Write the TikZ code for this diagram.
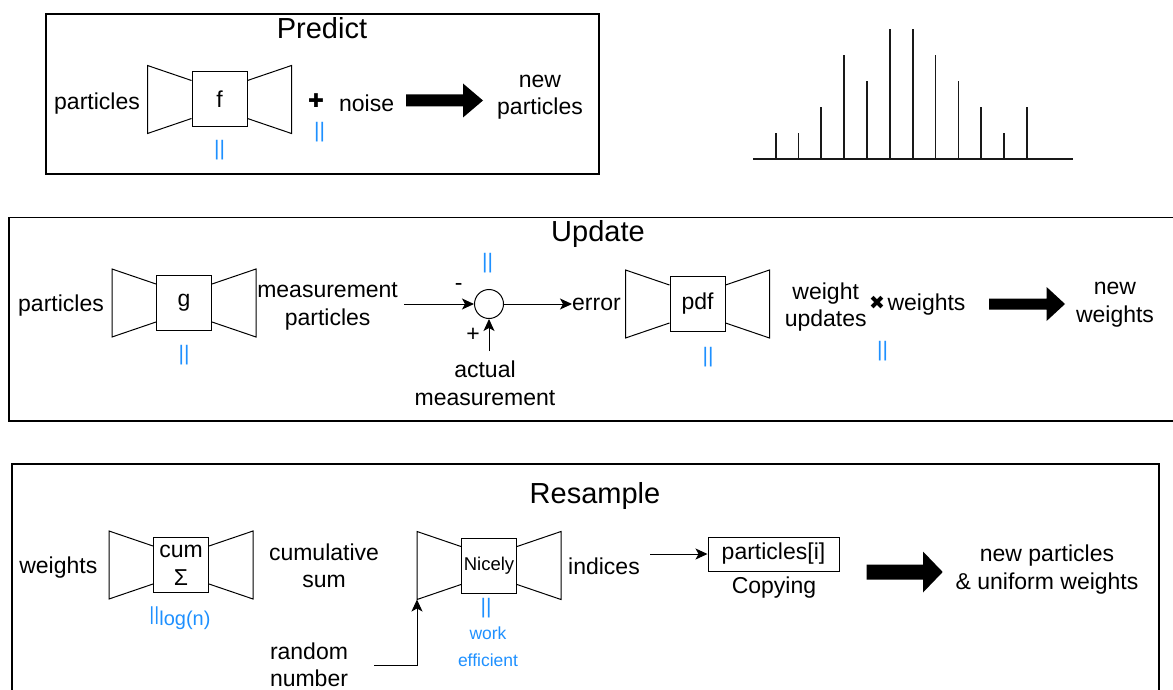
\documentclass[tikz,border=0pt]{standalone}
\usepackage{fontspec}
\setmainfont{Liberation Sans}
\newfontfamily\symfont{DejaVu Sans}
\usetikzlibrary{calc,arrows.meta}
\definecolor{parblue}{RGB}{30,144,255}
\tikzset{
  lbl/.style={inner sep=0pt, align=center, font=\fontsize{23}{27.5}\selectfont, yshift=-3pt},
  ttl/.style={inner sep=0pt, font=\fontsize{29}{33}\selectfont, yshift=-2pt},
  fbox/.style={draw, line width=1pt, fill=white, minimum size=55pt, inner sep=0pt,
               align=center, font=\fontsize{23}{28}\selectfont},
  par/.style={inner sep=0pt, text=parblue, align=center, font=\fontsize{21}{24}\selectfont},
  sym/.style={inner sep=0pt, font=\symfont\fontsize{19}{20}\selectfont},
  frame/.style={draw, line width=1.2pt},
  edge/.style={line width=1pt},
  conn/.style={line width=1pt, -{Stealth[length=12pt,width=11pt,inset=3pt]}},
  blockarrow/.style={fill=black},
  bar/.style={line width=1.8pt, draw=black!90},
}
% the two funnels on either side of a processing box
\newcommand{\funnels}[1]{%
  \draw[edge] ($(#1.west)+(0,-19)$) -- ++(-44,-15) -- ++(0,68) -- ++(44,-15);
  \draw[edge] ($(#1.east)+(0,-19)$) -- ++(44,-15) -- ++(0,68) -- ++(-44,-15);
  \coordinate (#1-bl) at ($(#1.west)+(-44,34)$);
}
\begin{document}
\begin{tikzpicture}[x=1pt,y=-1pt]
\useasboundingbox (0,0) rectangle (1173,690);
\clip (0,0) rectangle (1173,690);

% ---------------- frames ----------------
\draw[frame] (46,14) rectangle (599,174);
\draw[frame] (9,217.5) rectangle (1185,421);
\draw[frame] (12,464) rectangle (1159,705);

% ---------------- predict ----------------
\node[ttl, yshift=2pt] (ptitle) at (322,28) {Predict};
\node[lbl] (pin) at (97,101) {particles};
\node[fbox] (f) at (219.5,99.5) {f};
\funnels{f}
\node[par] (fpar) at (219.5,150) {||};
\node[sym] (plus) at (316,100.5) {✚};
\node[par] (npar) at (319.5,131.7) {||};
\node[lbl] (noise) at (366.6,100) {noise};
\fill[blockarrow] (406,94.5) -- (463,94.5) -- (463,83.5) -- (483,100.5)
  -- (463,117.5) -- (463,106.5) -- (406,106.5) -- cycle;
\node[lbl] (pout) at (540,94) {new\\particles};

% ---------------- weight histogram ----------------
\draw[bar] (753,159.3) -- (1073,159.3);
\foreach \i/\h in {0/133.3,1/133.3,2/107.3,3/55,4/81,5/29,6/29,7/55,8/81,9/107.3,10/133.3,11/107.3}{
  \draw[bar] ({775.7+22.84*\i},159.3) -- ({775.7+22.84*\i},\h);
}

% ---------------- update ----------------
\node[ttl] (utitle) at (598,232) {Update};
\node[lbl] (uin) at (61,303) {particles};
\node[fbox] (g) at (184,303) {g};
\funnels{g}
\node[par] (gpar) at (184,355) {||};
\node[lbl] (meas) at (327.6,303.5) {measurement\\particles};
\node[draw, circle, line width=1pt, minimum size=29pt, inner sep=0pt] (sum) at (489,304) {};
\node[par] (spar) at (487.5,263) {||};
\node[lbl] (minus) at (458.6,284) {-};
\node[lbl] (plusin) at (473,331.7) {+};
\node[lbl] (am) at (485,380.5) {actual\\measurement};
\coordinate (amtop) at (489,351);
\draw[conn] ([xshift=6pt]meas.east |- sum.west) -- (sum.west);
\draw[conn] (amtop) -- (sum.south);
\node[lbl, anchor=west, yshift=3pt] (err) at (572,304) {error};
\draw[conn] (sum.east) -- (err.west);
\node[fbox] (pdf) at (697.5,304) {pdf};
\funnels{pdf}
\node[par] (pdfpar) at (708,356.7) {||};
\node[lbl] (wu) at (825.7,304) {weight\\updates};
\node[sym] (times) at (877,302.5) {✖};
\node[lbl] (w) at (926.5,302) {weights};
\node[par] (wpar) at (882.5,351) {||};
\fill[blockarrow] (989,298.5) -- (1046.6,298.5) -- (1046.6,287) -- (1065,304)
  -- (1046.6,321) -- (1046.6,309.5) -- (989,309.5) -- cycle;
\node[lbl] (uout) at (1115,301.5) {new\\weights};

% ---------------- resample ----------------
\node[ttl] (rtitle) at (595,494) {Resample};
\node[lbl] (rin) at (58.3,565) {weights};
\node[fbox, font=\fontsize{23}{28.3}\selectfont] (cum) at (181,565) {\raisebox{-2pt}{cum}\\\raisebox{-2pt}{Σ}};
\funnels{cum}
\node[par] (cumpar) at (180,618)
  {{\fontsize{19}{20}\selectfont||}\raisebox{-5pt}{\fontsize{20}{22}\selectfont log(n)}};
\node[lbl] (cs) at (324,563) {cumulative\\sum};
\node[fbox, font=\fontsize{18.5}{22}\selectfont] (nic) at (489,565.5) {\raisebox{-1pt}{Nicely}};
\funnels{nic}
\node[par] (nicpar) at (486,608) {||};
\node[par, font=\fontsize{17.5}{27}\selectfont] (we) at (488,646.5) {work\\efficient};
\node[lbl] (rn) at (309,662) {random\\number};
\draw[conn] ([xshift=26pt]rn.east) -| (nic-bl);
\node[lbl] (idx) at (604,563) {indices};
\node[draw, line width=1pt, minimum width=131pt, minimum height=34pt, inner sep=0pt,
      font=\fontsize{23}{27}\selectfont] (pick) at (773.5,554) {particles[i]};
\node[lbl] (copy) at (774,585) {Copying};
\draw[conn] ([xshift=10pt]idx.east |- pick.west) -- (pick.west);
\fill[blockarrow] (866.7,564.5) -- (923,564.5) -- (923,551.5) -- (942.7,572)
  -- (923,592.5) -- (923,579.5) -- (866.7,579.5) -- cycle;
\node[lbl] (rout) at (1047,566.5) {new particles\\\& uniform weights};
\end{tikzpicture}
\end{document}
